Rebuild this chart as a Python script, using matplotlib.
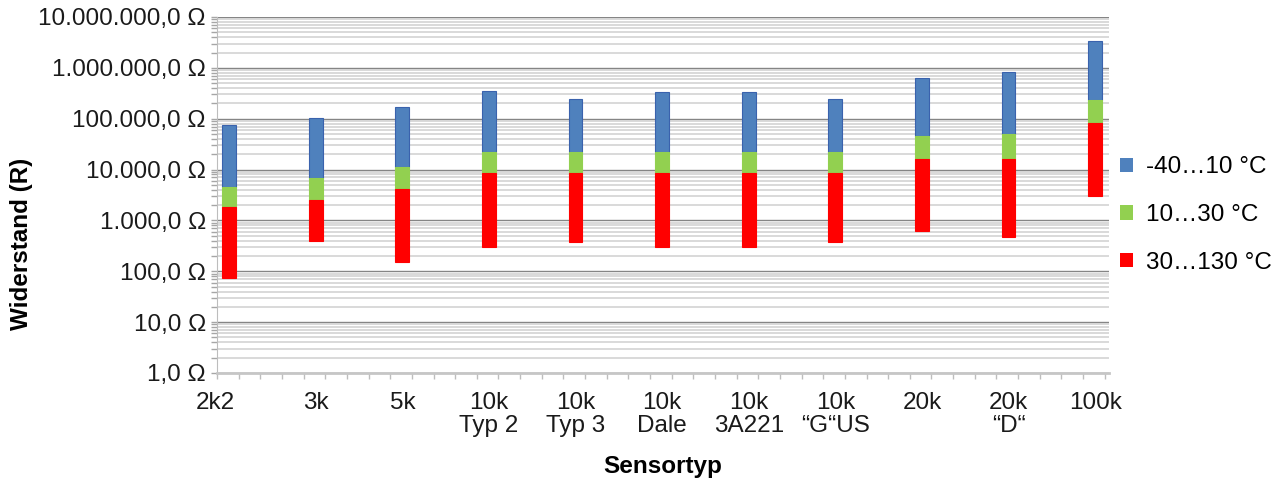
"""NTC-Widerstandsbereiche je Sensortyp (log. Skala, schwebende Balken)."""
import matplotlib

matplotlib.use("Agg")
import matplotlib.pyplot as plt
import matplotlib.transforms as mtransforms
import numpy as np
from matplotlib.patches import Patch
from matplotlib.ticker import LogLocator, NullFormatter

plt.rcParams["font.family"] = ["Liberation Sans", "DejaVu Sans"]

SENSORS = ["2k2", "3k", "5k", "10k\nTyp 2", "10k\nTyp 3", "10k\nDale",
           "10k\n3A221", "10k\n\u201cG\u201cUS", "20k", "20k\n\u201cD\u201c", "100k"]
# Widerstand an den Bereichsgrenzen (Ohm)
R_M40 = [75_000, 103_000, 170_000, 351_000, 245_000, 337_000, 337_000, 245_000, 631_000, 830_000, 3_370_000]
R_10 = [4_600, 6_870, 11_300, 22_300, 22_300, 22_300, 22_300, 22_300, 45_900, 50_000, 234_000]
R_30 = [1_850, 2_540, 4_170, 8_600, 8_600, 8_600, 8_600, 8_600, 16_200, 16_200, 82_700]
R_130 = [75, 400, 154, 302, 380, 300, 300, 380, 625, 480, 3_040]

RANGES = ["-40\u202610 \u00b0C", "10\u202630 \u00b0C", "30\u2026130 \u00b0C"]
COLORS = ["#4f81bd", "#92d050", "#ff0000"]

Y_TICKS = [1, 10, 100, 1_000, 10_000, 100_000, 1_000_000, 10_000_000]
Y_LABELS = ["1,0 \u03a9", "10,0 \u03a9", "100,0 \u03a9", "1.000,0 \u03a9", "10.000,0 \u03a9",
            "100.000,0 \u03a9", "1.000.000,0 \u03a9", "10.000.000,0 \u03a9"]

FS = 17.5

fig = plt.figure(figsize=(12.88, 4.88), dpi=100)
ax = fig.add_axes([217 / 1288, 1 - 373 / 488, (1109 - 217) / 1288, (373 - 17) / 488])

x = np.arange(len(SENSORS))
width = 0.16
segments = [(R_10, R_M40), (R_30, R_10), (R_130, R_30)]
for (low, high), color, label in zip(segments, COLORS, RANGES):
    low, high = np.array(low, float), np.array(high, float)
    edge = "#3a62ad" if color == COLORS[0] else color
    ax.bar(x, high - low, width, bottom=low, color=color, edgecolor=edge,
           linewidth=0.8, label=label, zorder=3)

ax.set_yscale("log")
ax.set_ylim(1, 1e7)
ax.set_xlim(-0.14, 10.16)
ax.set_yticks(Y_TICKS, Y_LABELS)
ax.yaxis.set_minor_locator(LogLocator(base=10, subs=np.arange(2, 10), numticks=100))
ax.yaxis.set_minor_formatter(NullFormatter())
ax.set_xticks(x, SENSORS)
ax.set_xticks(np.arange(-0.14, 10.17, 0.25), minor=True)

ax.grid(axis="y", which="major", color="#858585", linewidth=1.0, zorder=1)
ax.grid(axis="y", which="minor", color="#d3d3d3", linewidth=1.2, zorder=0)
ax.tick_params(axis="y", which="both", length=4, width=1, color="#a6a6a6",
               labelsize=FS, pad=4, labelcolor="#1a1a1a")
ax.tick_params(axis="x", which="major", length=0, labelsize=FS, pad=14,
               labelcolor="#1a1a1a")
ax.tick_params(axis="x", which="minor", length=4, width=1, color="#bdbdbd")
for lbl in ax.get_xticklabels():
    lbl.set_linespacing(1.05)
first = ax.get_xticklabels()[0]
first.set_transform(first.get_transform() + mtransforms.ScaledTranslation(-14 / 100, 0, fig.dpi_scale_trans))

for side in ("top", "right"):
    ax.spines[side].set_visible(False)
ax.spines["left"].set_color("#bdbdbd")
ax.spines["bottom"].set_color("#c6c6c6")
ax.spines["bottom"].set_linewidth(2)

ax.set_ylabel("Widerstand (R)", fontsize=FS, fontweight="bold")
ax.yaxis.set_label_coords(22 / 1288, 0.5, transform=fig.transFigure)
ax.set_xlabel("Sensortyp", fontsize=FS, fontweight="bold")
ax.xaxis.set_label_coords(0.5 * (217 + 1109) / 1288, 1 - 466 / 488, transform=fig.transFigure)
ax.xaxis.label.set_va("center")
ax.yaxis.label.set_va("center")

handles = [Patch(facecolor=c, edgecolor="none") for c in COLORS]
fig.legend(handles, RANGES, loc="center left", bbox_to_anchor=(1120 / 1288, 1 - 215 / 488),
           frameon=False, fontsize=FS, handlelength=0.55, handleheight=0.55,
           handletextpad=0.5, labelspacing=1.05, borderpad=0, borderaxespad=0)

fig.savefig("out.png", dpi=100)
